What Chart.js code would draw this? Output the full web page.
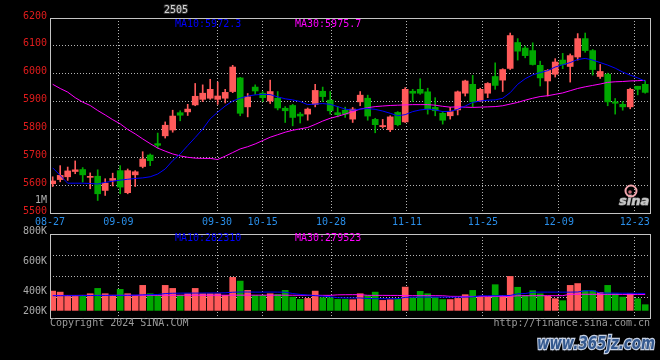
<!DOCTYPE html>
<html><head><meta charset="utf-8">
<script src="https://cdn.jsdelivr.net/npm/chart.js@4.4.1/dist/chart.umd.min.js"></script>
<style>
html,body{margin:0;padding:0;background:#000;}
#wrap{position:relative;width:660px;height:360px;overflow:hidden;background:#000;}
canvas{position:absolute;left:0;top:0;}
</style></head><body>
<div id="wrap"><canvas id="price" width="660" height="360"></canvas><canvas id="vol" width="660" height="360"></canvas></div>
<script>
// ---------------- data ----------------
const dates = ['08-27','08-28','08-29','08-30','09-02','09-03','09-04','09-05','09-06','09-09',
'09-10','09-11','09-12','09-13','09-18','09-19','09-20','09-23','09-24','09-25','09-26','09-27','09-30',
'10-08','10-09','10-10','10-11','10-14','10-15','10-16','10-17','10-18','10-21','10-22','10-23','10-24','10-25',
'10-28','10-29','10-30','10-31','11-01','11-04','11-05','11-06','11-07','11-08','11-11','11-12','11-13','11-14','11-15',
'11-18','11-19','11-20','11-21','11-22','11-25','11-26','11-27','11-28','11-29','12-02','12-03','12-04','12-05','12-06',
'12-09','12-10','12-11','12-12','12-13','12-16','12-17','12-18','12-19','12-20','12-23','12-24','12-25'];
const tickDates = ['08-27','09-09','09-30','10-15','10-28','11-11','11-25','12-09','12-23'];

const openP  = [5605,5620,5630,5649,5656,5628,5632,5581,5617,5652,5573,5637,5667,5708,5749,5777,5798,5860,5863,5888,
5908,5912,5908,5912,5936,5985,5881,5952,5930,5902,5912,5876,5886,5855,5855,5890,5937,5905,5860,5869,
5837,5899,5912,5836,5810,5799,5861,5827,5937,5944,5935,5879,5858,5849,5870,5930,5962,5902,5930,5990,
5977,6019,6112,6092,6083,6030,5974,5998,6049,6026,6060,6126,6083,5990,5998,5899,5890,5881,5955,5962];
const highP  = [5630,5670,5665,5687,5663,5644,5655,5623,5643,5670,5658,5652,5720,5712,5787,5827,5869,5867,5890,5965,
5960,5980,5970,5944,6030,5987,5929,5960,5936,5977,5936,5882,5890,5861,5877,5962,5952,5936,5882,5880,
5879,5936,5923,5840,5836,5849,5864,5950,5944,5982,5948,5914,5864,5879,5938,5977,5994,5948,5968,6039,
6018,6146,6126,6099,6111,6045,6015,6054,6073,6071,6144,6146,6087,6033,6002,5911,5900,5948,5955,5974];
const lowP   = [5595,5612,5617,5641,5611,5587,5545,5563,5597,5569,5569,5595,5662,5670,5733,5769,5790,5831,5850,5885,
5900,5908,5890,5895,5932,5849,5845,5926,5900,5893,5870,5825,5813,5823,5833,5881,5900,5855,5845,5843,
5825,5885,5833,5788,5805,5792,5813,5825,5900,5926,5855,5849,5819,5837,5852,5920,5881,5900,5914,5944,
5936,6015,6049,6057,6031,5956,5920,5988,6018,5970,6049,6077,5995,5983,5885,5855,5869,5874,5924,5930];
const closeP = [5615,5635,5651,5655,5637,5631,5569,5607,5624,5593,5652,5648,5694,5688,5743,5815,5848,5851,5873,5919,
5930,5944,5920,5933,6024,5858,5917,5938,5914,5936,5877,5867,5843,5848,5873,5940,5918,5867,5853,5855,
5873,5923,5848,5817,5814,5845,5817,5944,5930,5930,5873,5867,5833,5864,5935,5974,5899,5944,5965,5958,
6015,6137,6081,6065,6033,5985,6012,6042,6033,6065,6126,6083,6015,6008,5899,5894,5881,5944,5944,5933];

const ma10 = [5662,5635,5607,5607,5607,5606,5604,5610,5614,5618,5621,5624,5626,5630,5640,5658,5688,5712,5742,5771,
5801,5838,5862,5884,5902,5912,5920,5924,5926,5925,5917,5910,5906,5900,5889,5891,5893,5890,5882,5873,
5869,5873,5875,5872,5866,5858,5849,5853,5864,5870,5873,5870,5864,5865,5872,5884,5897,5902,5905,5906,
5912,5932,5962,5982,5996,6004,6011,6024,6032,6040,6051,6055,6049,6040,6031,6020,6006,5995,5985,5973];
const ma30 = [5962,5947,5934,5914,5898,5886,5868,5852,5835,5820,5800,5784,5766,5749,5733,5722,5712,5705,5700,5697,
5696,5696,5692,5704,5717,5730,5738,5748,5760,5772,5781,5790,5797,5802,5807,5818,5830,5840,5847,5855,
5864,5873,5878,5882,5884,5886,5887,5888,5889,5889,5889,5887,5883,5880,5881,5880,5879,5880,5881,5882,
5885,5891,5897,5905,5912,5918,5921,5926,5931,5939,5947,5953,5958,5963,5969,5971,5972,5974,5975,5976];

const volume = [338000,320000,263000,263000,263000,292000,385000,292000,263000,368000,292000,263000,438000,292000,263000,438000,385000,263000,292000,385000,
292000,292000,292000,263000,578000,513000,350000,263000,263000,292000,280000,350000,233000,193000,210000,338000,222000,222000,193000,193000,
187000,292000,257000,320000,175000,187000,193000,408000,222000,333000,292000,228000,190000,190000,210000,275000,350000,233000,233000,450000,
263000,595000,405000,263000,345000,290000,250000,205000,170000,438000,470000,345000,345000,315000,438000,292000,233000,292000,205000,100000];
const volMa10 = [257000,257000,258000,258000,259000,260000,262000,263000,263000,264000,265000,266000,272000,275000,278000,295000,300000,302000,303000,303000,
304000,305000,305000,308000,318000,322000,322000,320000,320000,321000,320000,318000,295000,280000,268000,258000,250000,240000,222000,218000,
218000,218000,208000,205000,204000,204000,205000,228000,232000,233000,233000,233000,232000,232000,232000,233000,236000,255000,256000,257000,
258000,262000,290000,295000,318000,320000,320000,320000,319000,320000,322000,343000,345000,305000,303000,302000,300000,300000,298000,296000];
const volMa30 = [262000,262000,262000,262000,263000,263000,263000,263000,264000,264000,264000,264000,264000,264000,265000,265000,265000,266000,266000,266000,
266000,266000,266000,266000,267000,267000,267000,267000,267000,266000,266000,266000,265000,265000,264000,264000,263000,263000,272000,274000,
275000,275000,264000,263000,263000,262000,262000,258000,258000,257000,257000,257000,256000,246000,245000,245000,245000,245000,245000,245000,
246000,246000,256000,257000,257000,257000,257000,257000,258000,283000,283000,282000,282000,281000,281000,281000,280000,280000,280000,280000];

const contractName = '2505';
const priceLegend = ['MA10:5972.3', 'MA30:5975.7'];
const volLegend = ['MA10:282310', 'MA30:279523'];
const volTickLabels = ['800K', '600K', '400K', '200K'];
const unitLabel = '1M';
const footerLeft = 'Copyright 2024 SINA.COM';
const footerRight = 'http://finance.sina.com.cn';
const logoText = 'sina';
const watermark = 'www.365jz.com';

// ---------------- styling ----------------
const UP = '#ff5a5a', DOWN = '#00a800';
const GRID = '#b4b4b4', FRAME = '#c4c4c4';
const MONO = '"DejaVu Sans Mono", "Liberation Mono", monospace';
const OFF = 0.36; // candle position inside its slot
const tickIdx = tickDates.map(d => dates.indexOf(d));
const candleColors = openP.map((o, i) => closeP[i] >= o ? UP : DOWN);

const overlay = {
  id: 'overlay',
  afterDraw(chart, args, opts) {
    const {ctx, chartArea: a} = chart;
    ctx.save();
    ctx.strokeStyle = FRAME; ctx.lineWidth = 1;
    ctx.strokeRect(Math.round(a.left) + 0.5, Math.round(a.top) + 0.5, Math.round(a.right - a.left), Math.round(a.bottom - a.top));
    (opts.texts || []).forEach(t => {
      ctx.font = t.font || ('10px ' + MONO);
      ctx.fillStyle = t.color;
      ctx.textAlign = t.align || 'left';
      ctx.textBaseline = 'middle';
      if (t.stroke) { ctx.strokeStyle = t.stroke; ctx.lineWidth = t.strokeWidth || 2; ctx.strokeText(t.text, t.x, t.y, t.maxWidth); }
      ctx.fillText(t.text, t.x, t.y, t.maxWidth);
    });
    if (opts.logo) {
      ctx.strokeStyle = '#f2a6ae'; ctx.lineWidth = 2;
      ctx.beginPath(); ctx.arc(631, 191, 5.5, 0, Math.PI * 2); ctx.stroke();
      ctx.fillStyle = '#c86a74'; ctx.beginPath(); ctx.arc(630, 192, 1.8, 0, Math.PI * 2); ctx.fill();
    }
    ctx.restore();
  }
};

const gridX = (showLabels) => ({
  type: 'linear', min: 0, max: dates.length - 1, position: 'bottom', offset: false,
  afterBuildTicks(s) { s.ticks = tickIdx.map(v => ({value: v})); },
  afterFit(s) { s.height = showLabels ? 16 : 0; },
  grid: {color: GRID, drawTicks: false, offset: false},
  border: {display: false, dash: [1, 2]},
  ticks: {display: showLabels, color: '#2a8ee8', font: {family: MONO, size: 10}, padding: 3,
          autoSkip: false, maxRotation: 0, callback: v => dates[v]}
});
const dataX = {type: 'linear', min: 0, max: dates.length, display: false, offset: false};

new Chart(document.getElementById('price'), {
  type: 'bar',
  data: {datasets: [
    {type: 'line', data: ma10.map((v, i) => ({x: i + OFF, y: v})), borderColor: '#0000ff', borderWidth: 1, pointRadius: 0, tension: 0, xAxisID: 'x', yAxisID: 'y'},
    {type: 'line', data: ma30.map((v, i) => ({x: i + OFF, y: v})), borderColor: '#ff00ff', borderWidth: 1, pointRadius: 0, tension: 0, xAxisID: 'x', yAxisID: 'y'},
    {data: openP.map((o, i) => ({x: i + OFF, y: [o, closeP[i]]})), backgroundColor: candleColors, barThickness: 6, grouped: false, minBarLength: 1, borderWidth: 0, xAxisID: 'x', yAxisID: 'y'},
    {data: lowP.map((l, i) => ({x: i + OFF, y: [l, highP[i]]})), backgroundColor: candleColors, barThickness: 1, grouped: false, borderWidth: 0, xAxisID: 'x', yAxisID: 'y'}
  ]},
  options: {
    responsive: false, animation: false, events: [],
    layout: {padding: {left: 0, right: 10, top: 18, bottom: 131}},
    plugins: {legend: {display: false}, tooltip: {enabled: false},
      overlay: {logo: true, texts: [
        {text: contractName, x: 176, y: 10, color: '#d4d4d4', align: 'center', stroke: '#333', strokeWidth: 2},
        {text: priceLegend[0], x: 175, y: 24, color: '#0000ff'},
        {text: priceLegend[1], x: 295, y: 24, color: '#ff00ff'},
        {text: unitLabel, x: 47, y: 200, color: '#b0b0b0', align: 'right'},
        {text: logoText, x: 619, y: 202, color: '#c8c8c8', font: 'italic bold 13px "DejaVu Sans"', stroke: '#888', strokeWidth: 1}
      ]}},
    scales: {
      x: dataX,
      xg: gridX(true),
      y: {type: 'linear', min: 5500, max: 6200, position: 'left',
          afterFit(s) { s.width = 50; },
          grid: {color: GRID, drawTicks: false},
          border: {display: false, dash: [1, 2]},
          ticks: {stepSize: 100, color: '#e01c1c', font: {family: MONO, size: 10}, padding: 3, labelOffset: -2, callback: v => String(v)}}
    }
  },
  plugins: [overlay]
});

const VMIN = -133000, VMAX = 1337000;
const volColors = openP.map((o, i) => closeP[i] >= o ? UP : DOWN);
new Chart(document.getElementById('vol'), {
  type: 'bar',
  data: {datasets: [
    {type: 'line', data: volMa10.map((v, i) => ({x: i + OFF, y: v})), borderColor: '#0000ff', borderWidth: 1, pointRadius: 0, tension: 0, stepped: false, xAxisID: 'x', yAxisID: 'y'},
    {type: 'line', data: volMa30.map((v, i) => ({x: i + OFF, y: v})), borderColor: '#ff00ff', borderWidth: 1, pointRadius: 0, tension: 0, xAxisID: 'x', yAxisID: 'y'},
    {data: volume.map((v, i) => ({x: i + OFF, y: [0, v]})), backgroundColor: volColors, barThickness: 6, grouped: false, borderWidth: 0, xAxisID: 'x', yAxisID: 'y'}
  ]},
  options: {
    responsive: false, animation: false, events: [],
    layout: {padding: {left: 0, right: 10, top: 234, bottom: 42}},
    plugins: {legend: {display: false}, tooltip: {enabled: false},
      overlay: {texts: [
        {text: volLegend[0], x: 175, y: 238.5, color: '#0000ff'},
        {text: volLegend[1], x: 295, y: 238.5, color: '#ff00ff'},
        {text: volTickLabels[0], x: 47, y: 231, color: '#aaaaaa', align: 'right'},
        {text: volTickLabels[1], x: 47, y: 261, color: '#aaaaaa', align: 'right'},
        {text: volTickLabels[2], x: 47, y: 291, color: '#aaaaaa', align: 'right'},
        {text: volTickLabels[3], x: 47, y: 311, color: '#aaaaaa', align: 'right'},
        {text: footerLeft, x: 50, y: 323.5, color: '#9a9a9a'},
        {text: footerRight, x: 650, y: 323.5, color: '#9a9a9a', align: 'right'},
        {text: watermark, x: 537, y: 345, color: '#34598f', font: 'italic bold 17px "DejaVu Sans"', stroke: '#c8d2e4', strokeWidth: 2.5, maxWidth: 118}
      ]}},
    scales: {
      x: dataX,
      xg: gridX(false),
      y: {type: 'linear', min: VMIN, max: VMAX, position: 'left',
          afterBuildTicks(s) { s.ticks = [0, 1, 2, 3, 4].map(k => ({value: VMIN + k * (VMAX - VMIN) / 4})); },
          afterFit(s) { s.width = 50; },
          grid: {color: GRID, drawTicks: false},
          border: {display: false, dash: [1, 2]},
          ticks: {display: false}}
    }
  },
  plugins: [overlay]
});
</script>
</body></html>
